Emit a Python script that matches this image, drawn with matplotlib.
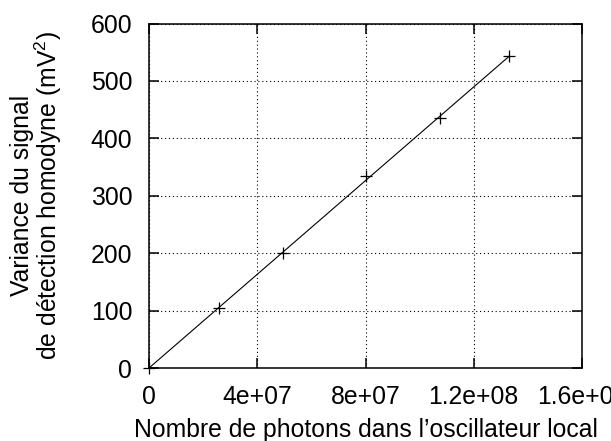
import matplotlib
matplotlib.use("Agg")
import matplotlib.pyplot as plt

# mesures (nombre de photons, variance en mV^2)
photons = [0, 2.59e7, 4.95e7, 8.0e7, 1.075e8, 1.331e8]
variance = [0, 104, 201, 335, 435, 543]

# droite ajustée
fit_x = [0, 1.331e8]
fit_y = [0, 543]

xticks = [0, 4e7, 8e7, 1.2e8, 1.6e8]
xtick_labels = ["0", "4e+07", "8e+07", "1.2e+08", "1.6e+08"]
yticks = [0, 100, 200, 300, 400, 500, 600]

plt.rcParams["font.family"] = ["Liberation Sans", "DejaVu Sans"]
plt.rcParams["mathtext.fontset"] = "custom"
plt.rcParams["mathtext.rm"] = "Liberation Sans"
plt.rcParams["mathtext.it"] = "Liberation Sans:italic"

fs = 17.8

fig = plt.figure(figsize=(6.11, 4.41), dpi=100)
ax = fig.add_axes([149 / 611, 73 / 441, 433 / 611, 344.5 / 441])

ax.plot(fit_x, fit_y, color="black", lw=0.8)
ax.plot(photons, variance, ls="none", marker="+", ms=9, mew=0.9,
        color="black", clip_on=False, zorder=5)

ax.set_xlim(0, 1.6e8)
ax.set_ylim(0, 600)
ax.set_xticks(xticks)
ax.set_xticklabels(xtick_labels)
ax.set_yticks(yticks)

ax.tick_params(direction="in", length=7, width=1.1, labelsize=fs,
               top=True, right=True, pad=12)
for s in ax.spines.values():
    s.set_linewidth(1.1)

ax.grid(True, color="black", ls=(0, (1, 2.5)), lw=0.8)

ax.set_xlabel("Nombre de photons dans l\u2019oscillateur local", fontsize=fs,
              labelpad=7)
ax.set_ylabel("Variance du signal\nde d\u00e9tection homodyne (mV$^2$)",
              fontsize=fs, labelpad=19, linespacing=0.95)

fig.savefig("out.png", dpi=100)
